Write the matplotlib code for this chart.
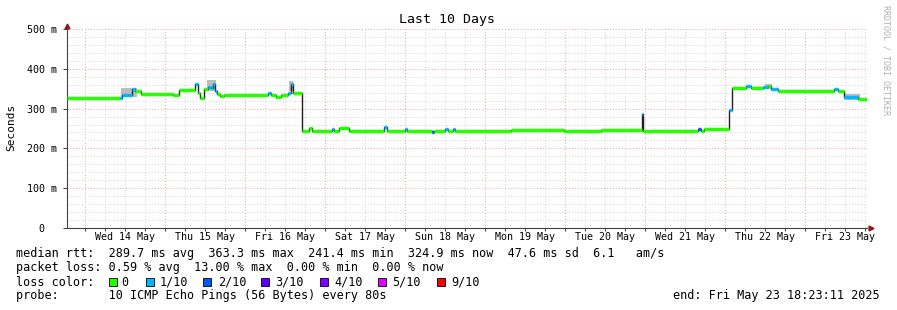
import matplotlib
matplotlib.use("Agg")
import matplotlib.pyplot as plt
import numpy as np

W, H = 897, 310
MONO = "DejaVu Sans Mono"

# median rtt steps: start hour (relative to Wed 14 May 00:00), value in ms, loss class
seg_start = [-5.61, 10.5, 11.1, 12.9, 14.1, 15.0, 16.8, 26.4, 28.2, 33.0, 33.9, 34.5,
             35.7, 36.9, 37.8, 38.4, 39.0, 39.6, 40.5, 41.7, 54.9, 55.8, 57.3, 58.8,
             60.9, 61.8, 62.4, 65.1, 67.2, 68.1, 74.1, 74.7, 76.2, 79.2, 89.7, 90.6,
             96.0, 96.6, 104.1, 104.7, 108.0, 108.9, 110.4, 111.0, 127.8, 143.7, 154.8,
             167.1, 167.4, 183.9, 184.8, 185.7, 187.2, 193.2, 194.1, 198.3, 199.8,
             203.4, 204.9, 205.8, 207.9, 224.7, 225.9, 227.7, 231.9]
seg_ms = [327, 327, 333, 335, 349, 343, 337, 334, 346, 363, 340, 327,
          349, 355, 352, 362, 345, 337, 331, 335, 340, 333, 330, 334,
          340, 362, 338, 243, 251, 243, 250, 243, 251, 243, 253, 243,
          250, 243, 240, 243, 249, 243, 249, 243, 246, 244, 245,
          287, 243, 250, 244, 248, 250, 297, 353, 356, 353,
          355, 358, 350, 343, 348, 343, 328, 325]
seg_loss = [0, 1, 1, 1, 1, 0, 0, 0, 0, 1, 0, 0,
            0, 1, 1, 1, 1, 0, 0, 0, 1, 0, 0, 0,
            1, 1, 0, 0, 0, 0, 1, 0, 0, 0, 1, 0,
            1, 0, 2, 0, 1, 0, 1, 0, 0, 0, 0,
            1, 0, 2, 0, 0, 0, 1, 0, 1, 0,
            1, 0, 1, 0, 1, 0, 1, 0]
t_end = 234.39

# smoke (ping spread) spans: start, end, low, high (ms)
smoke_start = [10.8, 36.6, 61.2, 204.0, 227.7]
smoke_end = [15.6, 39.3, 62.4, 206.1, 232.5]
smoke_lo = [330, 345, 345, 350, 322]
smoke_hi = [352, 372, 370, 362, 336]

loss_labels = ["0", "1/10", "2/10", "3/10", "4/10", "5/10", "9/10"]
loss_colors = ["#26ff00", "#00b8ff", "#0059ff", "#5e00ff", "#7e00ff", "#dd00ff", "#ff0000"]

day_labels = ["Wed 14 May", "Thu 15 May", "Fri 16 May", "Sat 17 May", "Sun 18 May",
              "Mon 19 May", "Tue 20 May", "Wed 21 May", "Thu 22 May", "Fri 23 May"]

fig = plt.figure(figsize=(W / 100, H / 100), dpi=100)
fig.patch.set_facecolor("white")
ax = fig.add_axes([66.5 / W, (H - 228) / H, 800 / W, 199 / H])
ax.set_xlim(-5.61, t_end)
ax.set_ylim(0, 500)

# grid
dot = (0, (1, 2))
for h in np.arange(0, 240, 6):
    if h % 24:
        ax.axvline(h, color="#d4d4d4", lw=0.7, ls=dot, zorder=0)
for h in np.arange(0, 240, 24):
    ax.axvline(h, color="#f4a0a0", lw=0.7, ls=dot, zorder=0)
for v in np.arange(20, 501, 20):
    if v % 100:
        ax.axhline(v, color="#d4d4d4", lw=0.7, ls=dot, zorder=0)
for v in np.arange(100, 501, 100):
    ax.axhline(v, color="#f4a0a0", lw=0.7, ls=dot, zorder=0)

# smoke
for s, e, lo, hi in zip(smoke_start, smoke_end, smoke_lo, smoke_hi):
    ax.fill_between([s, e], lo, hi, color="#bcbcbc", lw=0, zorder=1)

# median line
xs = seg_start + [t_end]
ys = seg_ms + [seg_ms[-1]]
ax.step(xs, ys, where="post", color="#202020", lw=1.0, zorder=2)
ends = seg_start[1:] + [t_end]
for s, e, v, l in zip(seg_start, ends, seg_ms, seg_loss):
    ax.hlines(v, s, e, color=loss_colors[l], lw=2.5, zorder=3)

# axes styling
for sp in ["top", "right"]:
    ax.spines[sp].set_visible(False)
for sp in ["left", "bottom"]:
    ax.spines[sp].set_color("#404040")
    ax.spines[sp].set_linewidth(0.8)

ax.set_yticks(np.arange(0, 501, 100))
ax.set_yticklabels(["0  ", "100 m", "200 m", "300 m", "400 m", "500 m"],
                   fontfamily=MONO, fontsize=7.2)
ax.tick_params(axis="y", length=3, width=0.7, color="#404040", pad=4)
ax.set_xticks(np.arange(0, 240, 24))
ax.set_xticklabels([])
ax.set_xticks(np.arange(0, 235, 6), minor=True)
ax.tick_params(axis="x", which="both", length=2, width=0.7, color="#404040", direction="out")
for i, lab in enumerate(day_labels):
    ax.text(12 + 24 * i, -9, lab, ha="center", va="top", fontfamily=MONO, fontsize=7.2,
            transform=ax.transData, clip_on=False)

# arrows
ax.plot([-5.61], [508], marker="^", color="#8b1a1a", ms=3.5, clip_on=False, zorder=5)
ax.plot([t_end + 1.3], [0], marker=">", color="#8b1a1a", ms=3.5, clip_on=False, zorder=5)

def ftext(x, y, s, **kw):
    kw.setdefault("fontfamily", MONO)
    kw.setdefault("fontsize", 8.5)
    kw.setdefault("va", "center")
    fig.text(x / W, 1 - y / H, s, **kw)

ftext(447, 19, "Last 10 Days", ha="center", fontsize=9.5)
ftext(11, 127, "Seconds", ha="center", rotation=90, fontsize=8)
ftext(886, 60, "RRDTOOL / TOBI OETIKER", ha="center", rotation=270, fontsize=6,
      color="#b0b0b0")

ftext(16, 254, "median rtt:  289.7 ms avg  363.3 ms max  241.4 ms min  324.9 ms now  47.6 ms sd  6.1   am/s")
ftext(16, 268, "packet loss: 0.59 % avg  13.00 % max  0.00 % min  0.00 % now")
ftext(16, 282, "loss color:")
ftext(16, 296, "probe:       10 ICMP Echo Pings (56 Bytes) every 80s")
ftext(880, 296, "end: Fri May 23 18:23:11 2025", ha="right")

sq_x = [109, 146, 203, 261, 320, 378, 437]
txt_x = [121, 160, 218, 275, 334, 392, 451]
for sx, tx, lab, c in zip(sq_x, txt_x, loss_labels, loss_colors):
    fig.patches.append(plt.Rectangle((sx / W, 1 - 286 / H), 8 / W, 8 / H,
                                     transform=fig.transFigure, facecolor=c,
                                     edgecolor="black", lw=0.6))
    ftext(tx, 282, lab)

fig.savefig("out.png", dpi=100)
